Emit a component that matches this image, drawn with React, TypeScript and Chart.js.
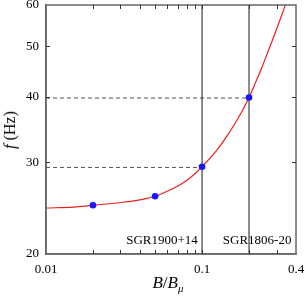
import React, { useEffect, useRef } from 'react';
import { Chart, registerables } from 'chart.js';

Chart.register(...registerables);

// Red model curve f(B/Bmu)
const curveB = [0.01, 0.015, 0.02, 0.03, 0.04, 0.05, 0.06, 0.07, 0.08, 0.09, 0.1, 0.12, 0.14, 0.16, 0.18, 0.2, 0.22, 0.24, 0.26, 0.28, 0.3, 0.32, 0.342];
const curveF = [24.5, 24.6, 24.8, 25.1, 25.4, 25.8, 26.4, 27.0, 27.7, 28.5, 29.4, 31.2, 33.2, 35.3, 37.5, 39.9, 42.6, 45.3, 48.2, 51.0, 53.9, 56.8, 60.0];

// Blue points
const pointB = [0.02, 0.05, 0.1, 0.2];
const pointF = [24.8, 25.8, 29.4, 39.9];

// Magnetars: field ratio (vertical line) and frequency level (dashed line)
const sgrNames = ['SGR1900+14', 'SGR1806-20'];
const sgrB = [0.1, 0.2];
const sgrF = [29.3, 39.8];
const sgrLabelX = [0.094, 0.374];
const sgrLabelY = [21.2, 21.2];

// Axes
const xMin = 0.01;
const xMax = 0.4;
const yMin = 20;
const yMax = 60;
const xTicks = [0.01, 0.02, 0.03, 0.04, 0.05, 0.06, 0.07, 0.08, 0.09, 0.1, 0.2, 0.3, 0.4];
const xTickLabels = ['0.01', '0.1', '0.4'];
const yTicks = [20, 30, 40, 50, 60];

const FONT = '"Liberation Serif", "Times New Roman", serif';
const FRAME = '#666666';

const framePlugin = {
  id: 'frame',
  afterDatasetsDraw(chart: any) {
    const { ctx, chartArea: a, scales } = chart;
    const xs = scales.x;
    const ys = scales.y;
    ctx.save();
    ctx.strokeStyle = FRAME;
    ctx.lineWidth = 1.5;
    ctx.strokeRect(a.left, a.top, a.right - a.left, a.bottom - a.top);
    ctx.lineWidth = 1;
    ctx.strokeStyle = '#333';
    ctx.beginPath();
    xTicks.forEach((v) => {
      if (v <= xMin || v >= xMax) return;
      const px = Math.round(xs.getPixelForValue(v)) + 0.5;
      ctx.moveTo(px, a.bottom);
      ctx.lineTo(px, a.bottom - 4);
      ctx.moveTo(px, a.top);
      ctx.lineTo(px, a.top + 4);
    });
    yTicks.forEach((v) => {
      if (v <= yMin || v >= yMax) return;
      const py = Math.round(ys.getPixelForValue(v)) + 0.5;
      ctx.moveTo(a.left, py);
      ctx.lineTo(a.left + 4, py);
      ctx.moveTo(a.right, py);
      ctx.lineTo(a.right - 4, py);
    });
    ctx.stroke();
    ctx.fillStyle = '#000';
    ctx.font = `13px ${FONT}`;
    ctx.textAlign = 'right';
    ctx.textBaseline = 'middle';
    sgrNames.forEach((name, i) => {
      ctx.fillText(name, xs.getPixelForValue(sgrLabelX[i]), ys.getPixelForValue(sgrLabelY[i]));
    });
    ctx.restore();
  },
};

export default function App() {
  const ref = useRef<HTMLCanvasElement | null>(null);

  useEffect(() => {
    if (!ref.current) return;
    const datasets: any[] = [
      {
        label: 'points',
        data: pointB.map((b, i) => ({ x: b, y: pointF[i] })),
        showLine: false,
        pointRadius: 3.3,
        pointBackgroundColor: '#1515ff',
        pointBorderWidth: 0,
      },
      {
        label: 'curve',
        data: curveB.map((b, i) => ({ x: b, y: curveF[i] })),
        borderColor: '#e8201c',
        borderWidth: 1.2,
        pointRadius: 0,
        cubicInterpolationMode: 'monotone',
        fill: false,
      },
      ...sgrB.map((b, i) => ({
        label: sgrNames[i] + ' B',
        data: [{ x: b, y: yMin }, { x: b, y: yMax }],
        borderColor: '#1a1a1a',
        borderWidth: 1,
        pointRadius: 0,
      })),
      ...sgrF.map((f, i) => ({
        label: sgrNames[i] + ' f',
        data: [{ x: xMin, y: f }, { x: sgrB[i], y: f }],
        borderColor: '#555',
        borderWidth: 1,
        borderDash: [4, 3],
        pointRadius: 0,
      })),
    ];

    const chart = new Chart(ref.current, {
      type: 'line',
      data: { datasets },
      options: {
        animation: false,
        responsive: false,
        plugins: { legend: { display: false }, tooltip: { enabled: false } },
        layout: { padding: { left: 0, right: 10, top: 5, bottom: 0 } },
        scales: {
          x: {
            type: 'logarithmic',
            min: xMin,
            max: xMax,
            afterBuildTicks: (s: any) => {
              s.ticks = xTicks.map((v) => ({ value: v }));
            },
            afterFit: (s: any) => {
              s.height = 46;
              s.paddingLeft = 0;
              s.paddingRight = 0;
            },
            ticks: {
              autoSkip: false,
              maxRotation: 0,
              padding: 8,
              color: '#000',
              font: { family: FONT, size: 13 },
              callback: (v: any) => {
                const s = String(Number(v));
                return xTickLabels.includes(s) ? s : '';
              },
            },
            grid: { display: false, drawTicks: false },
            border: { display: true, color: FRAME, width: 1.5 },
          },
          y: {
            type: 'logarithmic',
            min: yMin,
            max: yMax,
            afterBuildTicks: (s: any) => {
              s.ticks = yTicks.map((v) => ({ value: v }));
            },
            afterFit: (s: any) => {
              s.width = 46;
              s.paddingTop = 0;
              s.paddingBottom = 0;
            },
            ticks: {
              autoSkip: false,
              padding: 7,
              color: '#000',
              font: { family: FONT, size: 13 },
              callback: (v: any) => String(Number(v)),
            },
            grid: { display: false, drawTicks: false },
            border: { display: true, color: FRAME, width: 1.5 },
          },
        },
      } as any,
      plugins: [framePlugin],
    });
    return () => chart.destroy();
  }, []);

  return (
    <div style={{ position: 'absolute', left: 0, top: 0, width: 306, height: 300, background: '#fff' }}>
      <canvas ref={ref} width={306} height={300} style={{ display: 'block' }} />
      <div
        style={{
          position: 'absolute',
          left: 168,
          top: 274,
          transform: 'translateX(-50%)',
          fontFamily: FONT,
          fontSize: 17,
          whiteSpace: 'nowrap',
          lineHeight: '18px',
          color: '#000',
        }}
      >
        <i>B</i>/<i>B</i>
        <sub style={{ fontSize: 11, lineHeight: 0 }}>
          <i>μ</i>
        </sub>
      </div>
      <div
        style={{
          position: 'absolute',
          left: 10,
          top: 130,
          transform: 'translate(-50%, -50%) rotate(-90deg)',
          fontFamily: FONT,
          fontSize: 16,
          lineHeight: '18px',
          whiteSpace: 'nowrap',
          color: '#000',
        }}
      >
        <i>f</i> (Hz)
      </div>
    </div>
  );
}
